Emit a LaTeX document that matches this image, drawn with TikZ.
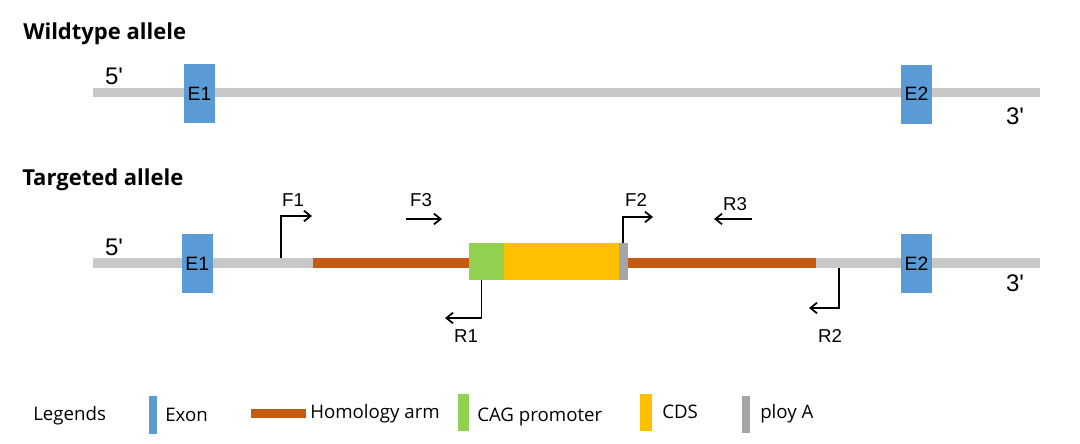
\documentclass[tikz,border=0pt]{standalone}
\usepackage{fontspec}
\setmainfont{Liberation Sans}
\newfontfamily\uifont{Open Sans}
\usetikzlibrary{arrows.meta}
\definecolor{bbgray}{RGB}{200,200,200}
\definecolor{exonblue}{RGB}{91,155,213}
\definecolor{armorange}{RGB}{197,90,17}
\definecolor{caggreen}{RGB}{146,208,80}
\definecolor{cdsyellow}{RGB}{255,192,0}
\definecolor{polyagray}{RGB}{165,165,165}
\tikzset{
  exon/.style={fill=exonblue, draw=none, minimum width=23.25pt, minimum height=44.25pt, inner sep=0pt, font=\fontsize{14.5}{14.5}\selectfont},
  cassette/.style={draw=none, minimum height=27.75pt, inner sep=0pt},
  endlabel/.style={font=\fontsize{18}{18}\selectfont, inner sep=0pt},
  primerlabel/.style={font=\fontsize{14}{14}\selectfont, inner sep=0pt},
  primer/.style={draw=black, line width=1.3pt, -{Straight Barb[length=5pt,width=8pt]}},
  title/.style={font=\uifont\bfseries\fontsize{16.5}{16.5}\selectfont, anchor=base west, inner sep=0pt},
  legtext/.style={font=\uifont\fontsize{14}{14}\selectfont, anchor=base west, inner sep=0pt},
  legbar/.style={draw=none, inner sep=0pt},
}
\begin{document}
\begin{tikzpicture}[x=0.75pt,y=-0.75pt]
\useasboundingbox (0,0) rectangle (1080,443);

% ---------- Wildtype allele ----------
\node[title] (t1) at (23,39.3) {Wildtype allele};
\fill[bbgray] (93,88) rectangle (1040,97);
\node[exon] (wE1) at (199.5,93.5) {E1};
\node[exon] (wE2) at (916.5,94) {E2};
\node[endlabel] (w5) at (114,76) {5\textquotesingle};
\node[endlabel] (w3) at (1015,116) {3\textquotesingle};

% ---------- Targeted allele ----------
\node[title] (t2) at (22,185) {Targeted allele};
\fill[bbgray] (93,258) rectangle (313,268);
\fill[armorange] (313,258) rectangle (470,268);
\fill[armorange] (627,258) rectangle (816,268);
\fill[bbgray] (816,258) rectangle (1040,268);
\node[exon] (tE1) at (197.2,263.5) {E1};
\node[exon] (tE2) at (916.5,263.5) {E2};
\node[cassette, fill=caggreen, minimum width=26.25pt] (cag) at (486.5,261.5) {};
\node[cassette, fill=cdsyellow, minimum width=86.25pt] (cds) at (561.5,261.5) {};
\node[cassette, fill=polyagray, minimum width=6.4pt] (pa) at (623.25,261.5) {};
\node[endlabel] (t5) at (114,247) {5\textquotesingle};
\node[endlabel] (t3) at (1015,283) {3\textquotesingle};

% primers
\coordinate (f1a) at (281,258);
\coordinate (f1b) at (312,216);
\draw[primer] (f1a) |- (f1b);
\node[primerlabel] (F1) at (293,200) {F1};

\coordinate (f3a) at (406,219);
\coordinate (f3b) at (442,219);
\draw[primer] (f3a) -- (f3b);
\node[primerlabel] (F3) at (421,200) {F3};

\coordinate (f2b) at (653,217);
\draw[primer] (pa.north) |- (f2b);
\node[primerlabel] (F2) at (636,200) {F2};

\coordinate (r3a) at (752,219);
\coordinate (r3b) at (714,219);
\draw[primer] (r3a) -- (r3b);
\node[primerlabel] (R3) at (735,204) {R3};

\coordinate (r1b) at (445,318);
\draw[primer] ([xshift=-3.75pt]cag.south) |- (r1b);
\node[primerlabel] (R1) at (466,336) {R1};

\coordinate (r2a) at (839,268);
\coordinate (r2b) at (809,308);
\draw[primer] (r2a) |- (r2b);
\node[primerlabel] (R2) at (830,336) {R2};

% ---------- Legend ----------
\node[legtext] (lg) at (33,420.5) {Legends};
\node[legbar, fill=exonblue, minimum width=6pt, minimum height=28.5pt] (lexon) at (152.75,414.5) {};
\node[legtext] (lexont) at (165,421) {Exon};
\node[legbar, fill=armorange, minimum width=41.25pt, minimum height=6.75pt] (larm) at (278.5,413.5) {};
\node[legtext] (larmt) at (310,418) {Homology arm};
\node[legbar, fill=caggreen, minimum width=8.25pt, minimum height=27.75pt] (lcag) at (463.5,412.5) {};
\node[legtext] (lcagt) at (477,421) {CAG promoter};
\node[legbar, fill=cdsyellow, minimum width=9pt, minimum height=27.4pt] (lcds) at (646,412.75) {};
\node[legtext] (lcdst) at (662,418.5) {CDS};
\node[legbar, fill=polyagray, minimum width=6pt, minimum height=28.1pt] (lpa) at (746,414.25) {};
\node[legtext] (lpat) at (760,418) {ploy A};
\end{tikzpicture}
\end{document}
